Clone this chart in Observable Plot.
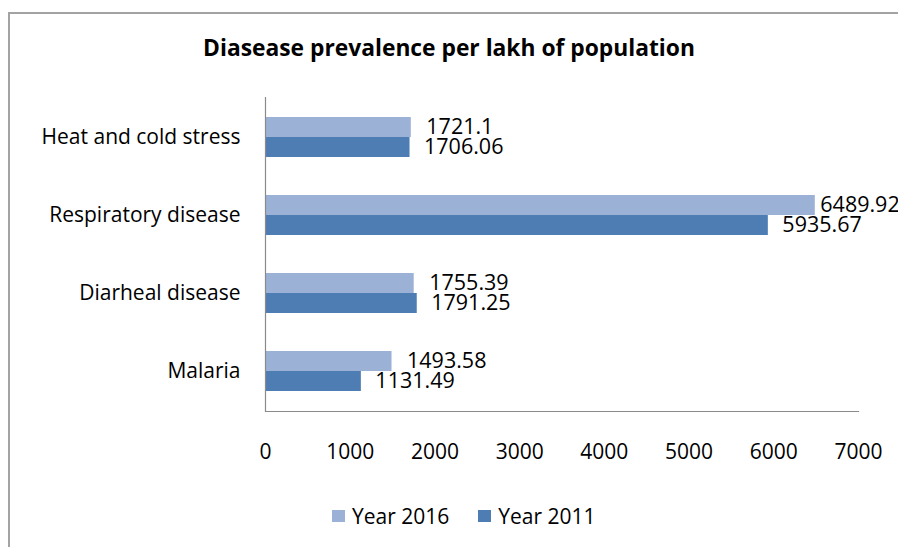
<!DOCTYPE html>
<html>
<head>
<meta charset="utf-8">
<script src="https://cdn.jsdelivr.net/npm/d3@7"></script>
<script src="https://cdn.jsdelivr.net/npm/@observablehq/plot@0.6"></script>
<style>
  html, body { margin: 0; padding: 0; background: #fff; width: 898px; height: 547px; overflow: hidden; }
  #panel { position: absolute; left: 8px; top: 12px; width: 1000px; height: 700px;
           border-left: 2px solid #a3a3a3; border-top: 2px solid #a3a3a3; }
  #title { position: absolute; left: 0; top: 32px; width: 898px; text-align: center;
           font: bold 22.8px "Open Sans", sans-serif; color: #000; white-space: nowrap; }
  #chart { position: absolute; left: 0; top: 0; }
  #legend { position: absolute; left: 332px; top: 502px; display: flex; align-items: center;
            font: 21px "Open Sans", sans-serif; color: #000; white-space: nowrap; }
  #legend .item { display: flex; align-items: center; margin-right: 29px; }
  #legend .sw { width: 13px; height: 12px; margin-right: 7px; }
</style>
</head>
<body>
<div id="panel"></div>
<div id="chart"></div>
<div id="title">Diasease prevalence per lakh of population</div>
<div id="legend"></div>
<script>
// Disease prevalence per lakh of population, two survey years
const categories = ["Heat and cold stress", "Respiratory disease", "Diarheal disease", "Malaria"];
const seriesNames = ["Year 2016", "Year 2011"];
const values2016 = [1721.1, 6489.92, 1755.39, 1493.58];
const values2011 = [1706.06, 5935.67, 1791.25, 1131.49];
const xTicks = [0, 1000, 2000, 3000, 4000, 5000, 6000, 7000];
const seriesColors = ["#9cb1d6", "#4e7db3"];

const rows2016 = categories.map((c, i) => ({category: c, series: seriesNames[0], value: values2016[i]}));
const rows2011 = categories.map((c, i) => ({category: c, series: seriesNames[1], value: values2011[i]}));

const axisColor = "#8a8a8a";
const chart = Plot.plot({
  width: 898,
  height: 547,
  marginLeft: 265,
  marginRight: 40,
  marginTop: 97,
  marginBottom: 136,
  style: {fontFamily: "'Open Sans', sans-serif", fontSize: "21px", color: "#000", background: "transparent", overflow: "visible"},
  x: {domain: [0, 7000], label: null},
  y: {domain: categories, paddingInner: 0.49, paddingOuter: 0.245, label: null},
  color: {domain: seriesNames, range: seriesColors},
  marks: [
    Plot.barX(rows2016, {x: "value", y: "category", fill: "series", insetBottom: 20}),
    Plot.barX(rows2011, {x: "value", y: "category", fill: "series", insetTop: 20}),
    Plot.ruleX([0], {stroke: axisColor, strokeWidth: 1.2}),
    Plot.frame({anchor: "bottom", stroke: axisColor, strokeWidth: 1.2}),
    Plot.text(rows2016.filter(d => d.value < 6000), {x: "value", y: "category", text: d => String(d.value),
      textAnchor: "start", dx: 15, dy: -10, fontSize: 21.5, fill: "#000"}),
    Plot.text(rows2016.filter(d => d.value >= 6000), {x: "value", y: "category", text: d => String(d.value),
      textAnchor: "start", dx: 5, dy: -10, fontSize: 21.5, fill: "#000"}),
    Plot.text(rows2011, {x: "value", y: "category", text: d => String(d.value),
      textAnchor: "start", dx: 14, dy: 10, fontSize: 21.5, fill: "#000"}),
    Plot.axisX({ticks: xTicks, tickFormat: d => String(d), tickSize: 0, tickPadding: 33, fontSize: 21}),
    Plot.axisY({tickSize: 0, tickPadding: 25, fontSize: 21})
  ]
});
document.getElementById("chart").appendChild(chart);

// Legend swatches built from the same series and colours
const legend = d3.select("#legend");
seriesNames.forEach((name, i) => {
  const item = legend.append("div").attr("class", "item");
  item.append("div").attr("class", "sw").style("background", seriesColors[i]);
  item.append("span").text(name);
});
</script>
</body>
</html>
